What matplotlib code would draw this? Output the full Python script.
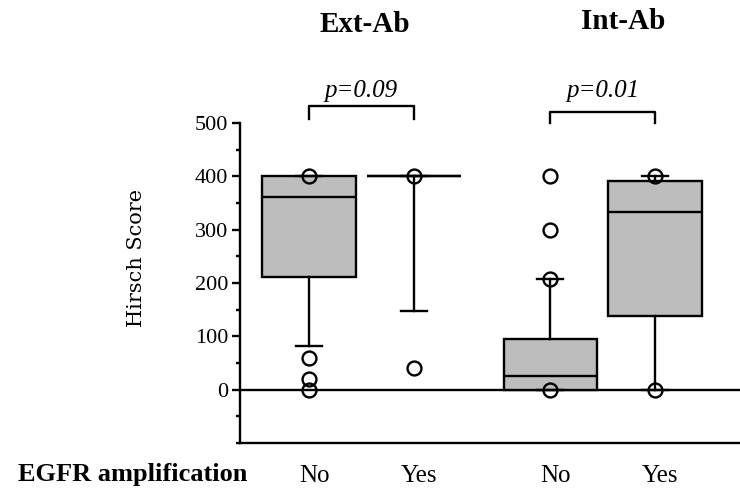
import matplotlib
matplotlib.use('Agg')
import matplotlib.pyplot as plt
from matplotlib.ticker import MultipleLocator

plt.rcParams['font.family'] = 'Liberation Serif'

# box statistics
groups = ['No', 'Yes', 'No', 'Yes']
positions = [1, 2, 3.3, 4.3]
q1 = [212, 400, 0, 139]
med = [362, 400, 25, 333]
q3 = [400, 400, 95, 392]
whislo = [82, 148, 0, 0]
whishi = [400, 400, 208, 400]
fliers = [[400, 60, 20, 0], [400, 40], [400, 300, 208, 0], [400, 0]]

titles = ['Ext-Ab', 'Int-Ab']
pvalues = ['p=0.09', 'p=0.01']

lw = 1.7
fig = plt.figure(figsize=(7.4, 4.96), dpi=100)
ax = fig.add_axes([240 / 740, 53 / 496, 500 / 740, 320 / 496])

stats = []
for i in range(len(groups)):
    stats.append(dict(q1=q1[i], med=med[i], q3=q3[i], whislo=whislo[i],
                      whishi=whishi[i], fliers=fliers[i]))

ax.bxp(stats, positions=positions, widths=0.89, capwidths=0.25,
       patch_artist=True, showfliers=True,
       boxprops=dict(facecolor='#bdbdbd', edgecolor='black', linewidth=lw),
       medianprops=dict(color='black', linewidth=lw),
       whiskerprops=dict(color='black', linewidth=lw),
       capprops=dict(color='black', linewidth=lw),
       flierprops=dict(marker='o', markersize=10, markerfacecolor='none',
                       markeredgecolor='black', markeredgewidth=1.7))

ax.axhline(0, color='black', linewidth=lw, zorder=1)

ax.set_xlim(0.342, 5.11)
ax.set_ylim(-100, 500)
ax.yaxis.set_major_locator(MultipleLocator(100))
ax.yaxis.set_minor_locator(MultipleLocator(50))
ax.set_yticks([0, 100, 200, 300, 400, 500])
ax.tick_params(axis='y', which='major', length=5.5, width=lw, labelsize=16, pad=3)
ax.tick_params(axis='y', which='minor', length=3, width=lw)
ax.set_xticks([p + 0.05 for p in positions], groups)
ax.tick_params(axis='x', length=0, labelsize=18, pad=16)

for s in ['top', 'right']:
    ax.spines[s].set_visible(False)
for s in ['left', 'bottom']:
    ax.spines[s].set_linewidth(lw)

# significance brackets and titles above the plot
tops = [532, 521]
legs = [507, 500]
title_y = [670, 676]
title_x = [1.53, 4.0]
for k in range(2):
    a, b = positions[2 * k], positions[2 * k + 1]
    ax.plot([a, a, b, b], [legs[k], tops[k], tops[k], legs[k]],
            color='black', linewidth=lw, clip_on=False)
    ax.text((a + b) / 2, 549, pvalues[k], ha='center', va='baseline',
            fontsize=18, style='italic')
    ax.text(title_x[k], title_y[k], titles[k], ha='center', va='baseline',
            fontsize=21, fontweight='bold')

fig.text(137 / 740, 1 - 258 / 496, 'Hirsch Score', rotation=90,
         ha='center', va='center', fontsize=15, family='DejaVu Serif')
fig.text(247 / 740, 1 - 481 / 496, 'EGFR amplification', ha='right',
         va='baseline', fontsize=19, fontweight='bold')

fig.savefig('out.png', dpi=100)
